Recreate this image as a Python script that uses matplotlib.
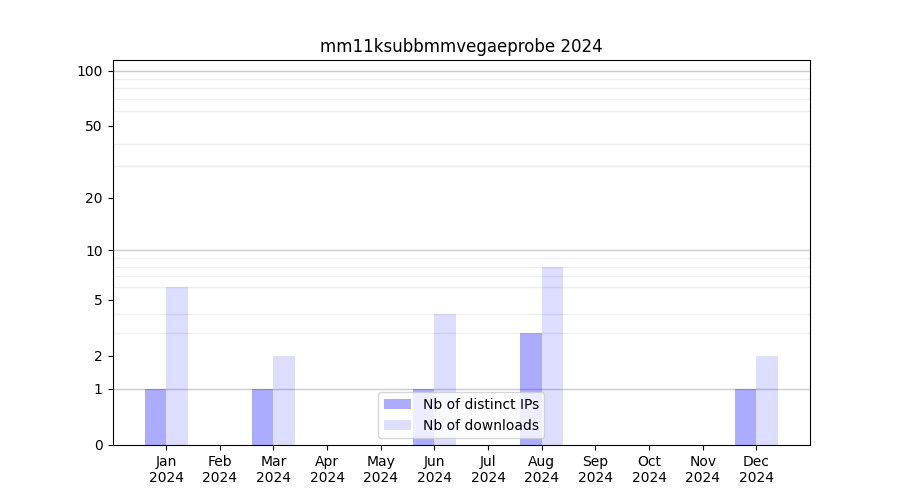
import numpy as np
import matplotlib
matplotlib.use('Agg')
import matplotlib.pyplot as plt

months = ['Jan', 'Feb', 'Mar', 'Apr', 'May', 'Jun', 'Jul', 'Aug', 'Sep', 'Oct', 'Nov', 'Dec']
year = '2024'
distinct_ips = [1, 0, 1, 0, 0, 1, 0, 3, 0, 0, 0, 1]
downloads = [6, 0, 2, 0, 0, 4, 0, 8, 0, 0, 0, 2]
title = 'mm11ksubbmmvegaeprobe 2024'


def fwd(y):
    return np.log10(1 + np.clip(y, 0, None))


def inv(y):
    return 10 ** y - 1


fig, ax = plt.subplots(figsize=(9, 5), dpi=100)
x = np.arange(len(months))
w = 0.4

ax.bar(x - w / 2, distinct_ips, w, color='blue', alpha=0.33, label='Nb of distinct IPs')
ax.bar(x + w / 2, downloads, w, color='blue', alpha=0.135, label='Nb of downloads')

ax.set_yscale('function', functions=(fwd, inv))
ax.set_ylim(0, 114)
ax.set_xlim(-1, 12)

ax.set_yticks([0, 1, 2, 5, 10, 20, 50, 100])
ax.set_yticklabels(['0', '1', '2', '5', '10', '20', '50', '100'])
minor = [v for v in list(range(2, 10)) + list(range(20, 100, 10))]
ax.set_yticks(minor, minor=True)
ax.tick_params(axis='y', which='minor', length=0)

# major grid only at decades, minor grid lighter
for v in [1, 10, 100]:
    ax.axhline(v, color='#cccccc', linewidth=1, zorder=0.5)
ax.grid(axis='y', which='minor', color='#eeeeee', linewidth=1, zorder=0.4)
ax.set_axisbelow(True)

ax.set_xticks(x)
ax.set_xticklabels([m + '\n' + year for m in months])

ax.set_title(title)
ax.legend(loc='lower center')

plt.savefig('out.png', dpi=100)
